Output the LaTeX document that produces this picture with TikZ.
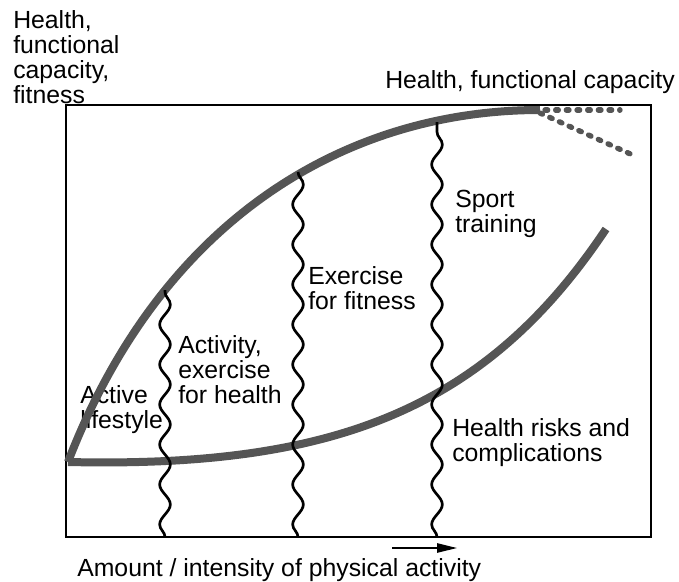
\documentclass[tikz,border=0pt]{standalone}
\usepackage{fontspec}
\setmainfont{Liberation Sans}
\usepackage{xcolor}
\definecolor{bandgray}{RGB}{85,85,85}
\usepackage{tikz}
\usetikzlibrary{decorations.pathmorphing,arrows.meta}

\begin{document}
\begin{tikzpicture}[x=0.75pt,y=-0.75pt,
  lbl/.style={font=\fontsize{18.6pt}{18.8pt}\selectfont, align=left, inner sep=0pt, anchor=north west},
  band/.style={color=bandgray, line width=6pt},
  dots/.style={color=bandgray, line width=4pt, line cap=round, dash pattern=on 2pt off 6pt},
  wave/.style={line width=2pt, decorate, decoration={snake, segment length=30pt, amplitude=4pt}}]
\useasboundingbox (0,0) rectangle (679,582);

% Frame
\draw[line width=1.5pt] (66,105) rectangle (651,537);

% Labels
\node[lbl] (yaxis) at (13,10) {Health,\\functional\\capacity,\\fitness};
\node[lbl] (hfc) at (385,70) {Health, functional capacity};
\node[lbl] (sport) at (455,190) {Sport\\training};
\node[lbl] (fit) at (308,266) {Exercise\\for fitness};
\node[lbl] (health) at (178,335) {Activity,\\exercise\\for health};
\node[lbl] (life) at (80,385) {Active\\lifestyle};
\node[lbl] (risk) at (452,418) {Health risks and\\complications};
\node[lbl] (xaxis) at (77,558) {Amount / intensity of physical activity};

% Curves
\coordinate (O) at (68,462);
\coordinate (top) at (540,110);
\coordinate (riskend) at (606,229);
\draw[band] (O) .. controls (163,215) and (350,110) .. (top);
\draw[band] (O) .. controls (330,468) and (484,412) .. (riskend);
\draw[dots] (545,110) -- (620,110);
\draw[dots] (540,113) -- (637,157);

% Borders between the zones
\draw[wave] (165,537) -- (165,290);
\draw[wave] (298,537) -- (298,172);
\draw[wave] (437,537) -- (437,122);

% Direction of the x axis
\coordinate (a0) at (392,548);
\coordinate (a1) at (457,548);
\draw[line width=1.2pt, -{Triangle[length=15pt, width=7pt]}] (a0) -- (a1);
\end{tikzpicture}
\end{document}
